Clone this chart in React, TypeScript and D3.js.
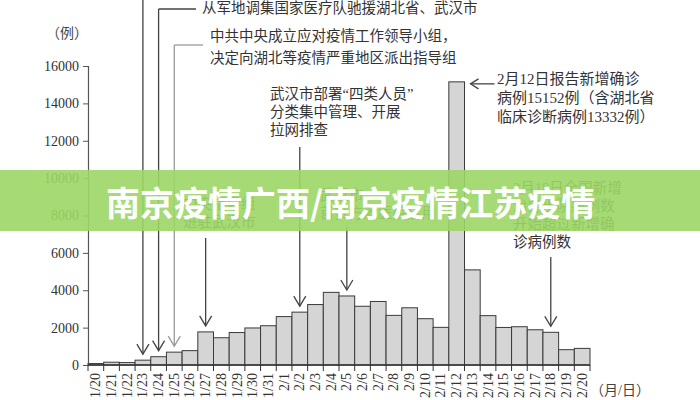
import { useRef, useEffect } from "react";
import * as d3 from "d3";

const dates = [
  "1/20", "1/21", "1/22", "1/23", "1/24", "1/25", "1/26", "1/27", "1/28", "1/29", "1/30", "1/31",
  "2/1", "2/2", "2/3", "2/4", "2/5", "2/6", "2/7", "2/8", "2/9", "2/10", "2/11", "2/12",
  "2/13", "2/14", "2/15", "2/16", "2/17", "2/18", "2/19", "2/20",
];
const newCases = [
  77, 149, 131, 259, 444, 688, 769, 1771, 1459, 1737, 1982, 2102,
  2590, 2829, 3235, 3887, 3694, 3143, 3399, 2656, 3062, 2478, 2015, 15152,
  5090, 2641, 2009, 2048, 1886, 1749, 820, 889,
];
const yTicks = [0, 2000, 4000, 6000, 8000, 10000, 12000, 14000, 16000];

const yUnit = "（例）";
const xUnit = "（月/日）";
const bannerText = "南京疫情广西/南京疫情江苏疫情";

const noteMedical = ["从军地调集国家医疗队驰援湖北省、武汉市"];
const noteLeading = ["中共中央成立应对疫情工作领导小组，", "决定向湖北等疫情严重地区派出指导组"];
const noteGuide = ["中央指导组", "进驻武汉市"];
const noteFourTypes = ["武汉市部署“四类人员”", "分类集中管理、开展", "拉网排查"];
const noteFangcang = ["武汉市", "首批方舱医院启用"];
const notePeak = ["2月12日报告新增确诊", "病例15152例（含湖北省", "临床诊断病例13332例）"];
const noteCured = ["2月18日全国新增", "治愈出院病例数", "开始超过新增确", "诊病例数"];

const FONT = "'Liberation Serif', 'Noto Sans CJK SC', serif";

export default function App() {
  const svgRef = useRef<SVGSVGElement>(null);
  const width = 700;
  const height = 400;

  useEffect(() => {
    if (!svgRef.current) return;
    const svg = d3.select(svgRef.current);
    svg.selectAll("*").remove();

    const x = d3.scaleBand<string>().domain(dates).range([88, 590]).padding(0);
    const y = d3.scaleLinear().domain([0, 16000]).range([365, 66]);

    svg.append("rect").attr("width", width).attr("height", height).attr("fill", "#fff");

    // bars
    svg
      .append("g")
      .selectAll("rect")
      .data(dates)
      .join("rect")
      .attr("x", (d) => x(d)!)
      .attr("y", (_, i) => y(newCases[i]))
      .attr("width", x.bandwidth())
      .attr("height", (_, i) => y(0) - y(newCases[i]))
      .attr("fill", "#d5d5d5")
      .attr("stroke", "#3a3a3a")
      .attr("stroke-width", 1);

    // y axis
    const yAxis = svg
      .append("g")
      .attr("transform", "translate(88,0)")
      .call(d3.axisLeft(y).tickValues(yTicks).tickSize(5).tickPadding(4).tickFormat(d3.format("d")));
    yAxis.select(".domain").attr("stroke", "#555").attr("stroke-width", 1.2);
    yAxis.selectAll(".tick line").attr("stroke", "#555");
    yAxis
      .selectAll(".tick text")
      .attr("fill", "#333")
      .attr("font-size", 14)
      .attr("font-family", FONT);

    svg
      .append("text")
      .attr("x", 67)
      .attr("y", 33)
      .attr("text-anchor", "middle")
      .attr("dominant-baseline", "central")
      .attr("fill", "#444")
      .attr("font-size", 14)
      .attr("font-family", FONT)
      .text(yUnit);

    // x axis
    const gx = svg.append("g");
    gx.append("line")
      .attr("x1", 88)
      .attr("x2", 590)
      .attr("y1", y(0))
      .attr("y2", y(0))
      .attr("stroke", "#333")
      .attr("stroke-width", 1.6);
    const edges = [...dates.map((d) => x(d)!), x.range()[1]];
    gx.selectAll("line.tk")
      .data(edges)
      .join("line")
      .attr("class", "tk")
      .attr("x1", (d) => d)
      .attr("x2", (d) => d)
      .attr("y1", y(0))
      .attr("y2", y(0) + 6)
      .attr("stroke", "#333");
    gx.selectAll("text")
      .data(dates)
      .join("text")
      .attr("transform", (d) => `translate(${x(d)! + x.bandwidth() / 2},${y(0) + 8}) rotate(-90)`)
      .attr("text-anchor", "end")
      .attr("dominant-baseline", "central")
      .attr("fill", "#333")
      .attr("font-size", 14)
      .attr("font-family", FONT)
      .text((d) => d);

    svg
      .append("text")
      .attr("x", 590)
      .attr("y", 390)
      .attr("dominant-baseline", "central")
      .attr("fill", "#444")
      .attr("font-size", 14)
      .attr("font-family", FONT)
      .text(xUnit);

    // annotation helpers
    const cx = (d: string) => x(d)! + x.bandwidth() / 2;
    const top = (d: string) => y(newCases[dates.indexOf(d)]) - 6;

    const arrow = (date: string, y0: number, color = "#444") => {
      const xx = cx(date);
      const tip = top(date);
      svg.append("line")
        .attr("x1", xx).attr("x2", xx).attr("y1", y0).attr("y2", tip)
        .attr("stroke", color).attr("stroke-width", 1.3);
      svg.append("path")
        .attr("d", `M${xx - 6},${tip - 10}L${xx},${tip}L${xx + 6},${tip - 10}`)
        .attr("fill", "none").attr("stroke", color).attr("stroke-width", 1.3);
    };

    const note = (lines: string[], x0: number, y0: number, lh: number, size = 14.5) => {
      const t = svg.append("text")
        .attr("fill", "#333")
        .attr("font-size", size)
        .attr("font-family", FONT);
      lines.forEach((l, i) => {
        t.append("tspan")
          .attr("x", x0)
          .attr("y", y0 + i * lh)
          .attr("dominant-baseline", "central")
          .text(l);
      });
    };

    // 1/23 (label lies above the picture)
    arrow("1/23", 0);
    // 1/24 medical teams
    svg.append("path")
      .attr("d", `M${cx("1/24")},9H196`)
      .attr("fill", "none").attr("stroke", "#444").attr("stroke-width", 1.3);
    arrow("1/24", 9);
    note(noteMedical, 202, 8, 18);
    // 1/25 leading group
    svg.append("path")
      .attr("d", `M${cx("1/25")},45H203`)
      .attr("fill", "none").attr("stroke", "#999").attr("stroke-width", 1.3);
    arrow("1/25", 45, "#999");
    note(noteLeading, 210, 36, 22);
    // 1/27
    note(noteGuide, 183, 204, 18);
    arrow("1/27", 238);
    // 2/2
    note(noteFourTypes, 270, 94, 18);
    arrow("2/2", 147);
    // 2/5
    note(noteFangcang, 320, 195, 18);
    arrow("2/5", 227);
    // 2/12 peak
    note(notePeak, 497, 79, 19, 15);
    const px = x("2/12")! + x.bandwidth() + 6;
    const py = y(newCases[dates.indexOf("2/12")]) + 2;
    svg.append("line")
      .attr("x1", px).attr("x2", px + 24).attr("y1", py).attr("y2", py)
      .attr("stroke", "#444").attr("stroke-width", 1.3);
    svg.append("path")
      .attr("d", `M${px + 8},${py - 5}L${px},${py}L${px + 8},${py + 5}`)
      .attr("fill", "none").attr("stroke", "#444").attr("stroke-width", 1.3);
    // 2/18
    note(noteCured, 513, 188, 18);
    arrow("2/18", 257);

    // banner overlay
    svg.append("rect")
      .attr("x", 0)
      .attr("y", 170)
      .attr("width", width)
      .attr("height", 61)
      .attr("fill", "#9bd665")
      .attr("opacity", 0.9);
    svg.append("text")
      .attr("x", 106)
      .attr("y", 201)
      .attr("dominant-baseline", "central")
      .attr("fill", "#fff")
      .attr("font-size", 34)
      .attr("font-weight", "bold")
      .attr("font-family", "'Noto Sans CJK SC', sans-serif")
      .text(bannerText);
  }, []);

  return (
    <svg
      ref={svgRef}
      width={width}
      height={height}
      style={{ position: "absolute", left: 0, top: 0, display: "block" }}
    />
  );
}
